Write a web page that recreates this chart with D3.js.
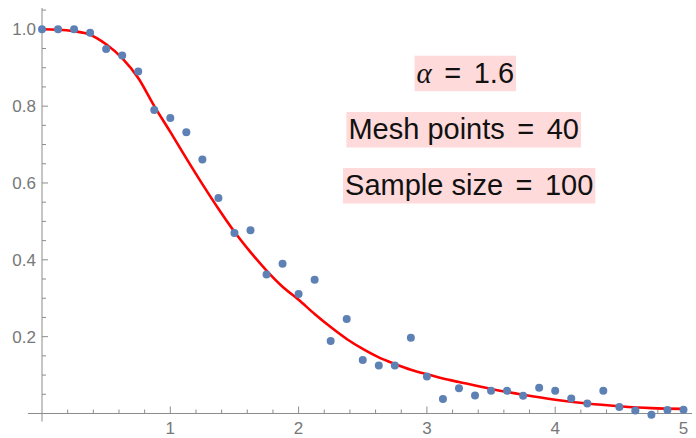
<!DOCTYPE html>
<html><head><meta charset="utf-8">
<script src="https://cdn.jsdelivr.net/npm/d3@7"></script>
<style>html,body{margin:0;padding:0;background:#fff;}svg{display:block;}</style>
</head><body>
<svg id="chart" width="696" height="438"></svg>
<script>
// ---- data ----
const meshX = [0,0.125,0.25,0.375,0.5,0.625,0.75,0.875,1,1.125,1.25,1.375,1.5,1.625,1.75,1.875,2,2.125,2.25,2.375,2.5,2.625,2.75,2.875,3,3.125,3.25,3.375,3.5,3.625,3.75,3.875,4,4.125,4.25,4.375,4.5,4.625,4.75,4.875,5];
const sampleY = [1.0,1.0,1.0,0.991,0.949,0.932,0.890,0.790,0.769,0.732,0.661,0.561,0.470,0.477,0.362,0.390,0.311,0.348,0.189,0.246,0.139,0.125,0.125,0.197,0.096,0.038,0.066,0.047,0.059,0.059,0.046,0.067,0.059,0.039,0.026,0.059,0.017,0.008,-0.003,0.009,0.010];
const curveX = [0,0.125,0.25,0.375,0.5,0.625,0.75,0.875,1,1.125,1.25,1.375,1.5,1.625,1.75,1.875,2,2.125,2.25,2.375,2.5,2.625,2.75,2.875,3,3.125,3.25,3.5,3.75,4,4.25,4.5,4.75,5];
const curveY = [1.0,0.999,0.995,0.986,0.961,0.925,0.873,0.800,0.733,0.664,0.597,0.533,0.473,0.420,0.372,0.330,0.296,0.259,0.225,0.194,0.168,0.146,0.129,0.114,0.102,0.091,0.082,0.064,0.049,0.036,0.026,0.019,0.014,0.012];
const xMajorTicks = [1,2,3,4,5];
const xMinorTicks = [0.2,0.4,0.6,0.8,1.2,1.4,1.6,1.8,2.2,2.4,2.6,2.8,3.2,3.4,3.6,3.8,4.2,4.4,4.6,4.8];
const yMajorTicks = [0.2,0.4,0.6,0.8,1.0];
const yMinorTicks = [0.05,0.1,0.15,0.25,0.3,0.35,0.45,0.5,0.55,0.65,0.7,0.75,0.85,0.9,0.95,1.05];
const yTickLabels = ["0.2","0.4","0.6","0.8","1.0"];
const annotations = [
  {pre:"", sym:"α", rest:"1.6"},
  {pre:"Mesh points", sym:"", rest:"40"},
  {pre:"Sample size", sym:"", rest:"100"}
];

// ---- scales ----
const svg = d3.select("#chart");
const x = d3.scaleLinear().domain([0,5]).range([42,683.5]);
const y = d3.scaleLinear().domain([0,1]).range([413.5,29.3]);
const axisColor = "#8c8c8c", labelColor = "#777";

// ---- axes ----
const ax = svg.append("g");
ax.append("line").attr("x1", x(-0.11)).attr("x2", 692).attr("y1", y(0)).attr("y2", y(0))
  .attr("stroke", axisColor).attr("stroke-width", 1);
ax.append("line").attr("x1", x(0)).attr("x2", x(0)).attr("y1", 8).attr("y2", y(0)+8)
  .attr("stroke", axisColor).attr("stroke-width", 1);
ax.selectAll(".xmaj").data(xMajorTicks).join("line")
  .attr("x1", d=>x(d)).attr("x2", d=>x(d)).attr("y1", y(0)).attr("y2", y(0)-7)
  .attr("stroke", axisColor);
ax.selectAll(".xmin").data(xMinorTicks).join("line")
  .attr("x1", d=>x(d)).attr("x2", d=>x(d)).attr("y1", y(0)).attr("y2", y(0)-4)
  .attr("stroke", axisColor);
ax.selectAll(".ymaj").data(yMajorTicks).join("line")
  .attr("x1", x(0)).attr("x2", x(0)+6).attr("y1", d=>y(d)).attr("y2", d=>y(d))
  .attr("stroke", axisColor);
ax.selectAll(".ymin").data(yMinorTicks).join("line")
  .attr("x1", x(0)).attr("x2", x(0)+4).attr("y1", d=>y(d)).attr("y2", d=>y(d))
  .attr("stroke", axisColor);
ax.selectAll(".xl").data(xMajorTicks).join("text")
  .attr("x", d=>x(d)).attr("y", 434).attr("text-anchor","middle")
  .attr("font-family","'Liberation Sans', Arial, sans-serif").attr("font-size",17)
  .attr("fill", labelColor).text(d=>d);
ax.selectAll(".yl").data(yMajorTicks).join("text")
  .attr("x", 36).attr("y", d=>y(d)).attr("dy","0.36em").attr("text-anchor","end")
  .attr("font-family","'Liberation Sans', Arial, sans-serif").attr("font-size",17)
  .attr("fill", labelColor).text((d,i)=>yTickLabels[i]);

// ---- curve ----
const line = d3.line().x(d=>x(d[0])).y(d=>y(d[1])).curve(d3.curveMonotoneX);
svg.append("path").datum(curveX.map((v,i)=>[v,curveY[i]]))
  .attr("d", line).attr("fill","none").attr("stroke","#ff0000").attr("stroke-width",2.6);

// ---- points ----
svg.selectAll(".pt").data(meshX.map((v,i)=>[v,sampleY[i]])).join("circle")
  .attr("cx", d=>x(d[0])).attr("cy", d=>y(d[1])).attr("r", 4).attr("fill","#5e81b5");

// ---- annotations ----
const centers = [[465.3,82.7],[463.7,139],[469.2,195]];
annotations.forEach((a,i)=>{
  const g = svg.append("g");
  const rect = g.append("rect").attr("fill","#ffdada");
  const t = g.append("text").attr("x", 0).attr("y", centers[i][1])
    .attr("font-family","'Liberation Sans', Arial, sans-serif").attr("font-size",29).attr("fill","#111");
  if (a.sym) t.append("tspan").attr("font-family","'Liberation Serif', serif").attr("font-style","italic").text(a.sym);
  if (a.pre) t.append("tspan").text(a.pre);
  t.append("tspan").attr("dx", 12.5).text("=");
  t.append("tspan").attr("dx", 12.5).text(a.rest);
  const bb0 = t.node().getBBox();
  t.attr("x", centers[i][0] - bb0.width/2 - bb0.x);
  const bb = t.node().getBBox();
  rect.attr("x", bb.x-2).attr("y", centers[i][1]-27).attr("width", bb.width+4).attr("height", 35.5);
});
</script>
</body></html>
